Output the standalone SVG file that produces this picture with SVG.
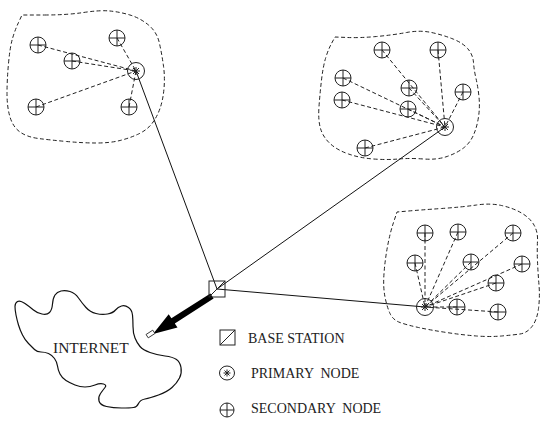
<svg xmlns="http://www.w3.org/2000/svg" xmlns:xlink="http://www.w3.org/1999/xlink" width="542" height="424" viewBox="0 0 542 424">
  <style>
    .bound { fill: none; stroke: #222; stroke-width: 1; stroke-dasharray: 4 2.5; }
    .dash { fill: none; stroke: #222; stroke-width: 1; stroke-dasharray: 4 2.5; }
    .link { fill: none; stroke: #111; stroke-width: 1; }
    .node { fill: none; stroke: #222; stroke-width: 1; }
    .cloud { fill: none; stroke: #111; stroke-width: 1.2; }
    .label { font-family: "Liberation Serif", "Times New Roman", serif; font-size: 14px; fill: #222; white-space: pre; }
  </style>
  <defs>
    <!-- secondary node: circle with a cross -->
    <g id="sec">
      <circle r="8" class="node"/>
      <path d="M-8,0H8M0,-8V8" class="node"/>
    </g>
    <!-- primary node: circle with an asterisk -->
    <g id="pri">
      <circle r="8.5" class="node"/>
      <path d="M-4,0H4M0,-4V4M-3,-3L3,3M-3,3L3,-3" class="node"/>
    </g>
  </defs>

  <!-- cluster boundaries -->
  <g id="boundaries">
    <path class="bound" d="M 44.5,15 Q 67,15 83.5,12.5 Q 100,10 110,11 Q 120,12 130,15 Q 140,18 148.5,25 Q 157,32 159.5,43.5 Q 162,55 163.5,66 Q 165,77 164,88.5 Q 163,100 160,108.5 Q 157,117 152,123.5 Q 147,130 138.5,134 Q 130,138 120,140.5 Q 110,143 96.5,143 Q 83,143 66.5,141.5 Q 50,140 38.5,138.5 Q 27,137 20,132 Q 13,127 10,117 Q 7,107 7,93.5 Q 7,80 8.5,63.5 Q 10,47 12.5,38.5 Q 15,30 18.5,22.5 L 22,15 Z"/>
    <path class="bound" d="M 347.5,37.5 Q 360,38 376.5,36.5 Q 393,35 406.5,32.5 Q 420,30 431.5,32.5 Q 443,35 453,39 Q 463,43 468,49 Q 473,55 473.5,62.5 Q 474,70 476,78.5 Q 478,87 479,97 Q 480,107 478.5,117 Q 477,127 473.5,135 Q 470,143 463.5,148 Q 457,153 447,156.5 Q 437,160 423.5,159 Q 410,158 398.5,159 Q 387,160 373.5,159 Q 360,158 348.5,154 Q 337,150 330,143.5 Q 323,137 320.5,128.5 Q 318,120 319,106.5 Q 320,93 321.5,80 Q 323,67 325.5,58.5 Q 328,50 331.5,43.5 L 335,37 Z"/>
    <path class="bound" d="M 408.5,211 Q 420,210 441.5,208.5 Q 463,207 476.5,205 Q 490,203 501.5,205.5 Q 513,208 521.5,213 Q 530,218 534,225 Q 538,232 537.5,241 Q 537,250 537.5,261.5 Q 538,273 539,285 Q 540,297 538.5,308.5 Q 537,320 532,326.5 Q 527,333 520,334 Q 513,335 501.5,336 Q 490,337 476.5,336 Q 463,335 446.5,332.5 Q 430,330 418.5,327.5 Q 407,325 400,322.5 Q 393,320 390,313.5 Q 387,307 385,297 Q 383,287 384,273.5 Q 385,260 387.5,246.5 Q 390,233 393.5,222.5 L 397,212 Z"/>
  </g>

  <!-- internet cloud -->
  <g id="internet">
    <path class="cloud" d="M 17.5,301.5 Q 20,300 25,303.5 Q 30,307 33.5,310 Q 37,313 42,314 Q 47,315 49.5,312.5 Q 52,310 52.5,304 Q 53,298 55,295 Q 57,292 61,291 Q 65,290 70,291.5 Q 75,293 78.5,298 Q 82,303 86,307.5 Q 90,312 96,313.5 Q 102,315 107.5,314 Q 113,313 115.5,310 Q 118,307 121.5,306 Q 125,305 128.5,307.5 Q 132,310 132.5,315 Q 133,320 133,326.5 Q 133,333 135,338 Q 137,343 140,346.5 Q 143,350 150,352.5 Q 157,355 165,356 Q 173,357 176.5,359.5 Q 180,362 181,367.5 Q 182,373 179.5,378 Q 177,383 172,387.5 Q 167,392 158.5,395 Q 150,398 145,399 Q 140,400 138.5,403.5 Q 137,407 133.5,407.5 Q 130,408 121.5,408 Q 113,408 106.5,406.5 Q 100,405 99,401 Q 98,397 100.5,393.5 Q 103,390 105,387.5 Q 107,385 103.5,384 Q 100,383 95,385 Q 90,387 85,387 Q 80,387 75,385 Q 70,383 66,380.5 Q 62,378 60,374 Q 58,370 57.5,366 Q 57,362 54.5,358.5 Q 52,355 48.5,353.5 Q 45,352 41,352 Q 37,352 34.5,349.5 Q 32,347 28.5,343.5 Q 25,340 22.5,335 Q 20,330 18.5,325 Q 17,320 16,315 Q 15,310 15,306.5 Q 15,303 17.5,301.5 Z"/>
    <text class="label" x="53" y="353" style="font-size:15.5px">INTERNET</text>
  </g>

  <!-- connectors -->
  <g id="connectors">
    <!-- base station to primary nodes -->
    <path class="link" d="M217,289L136,71M217,289L445,127M217,289L425,307"/>
    <!-- cluster 1 -->
    <path class="dash" d="M38,45L136,71M72,61L136,71M117,38L136,71M36,107L136,71M129,107L136,71"/>
    <!-- cluster 2 -->
    <path class="dash" d="M382,50L445,127M438,50L445,127M343,78L445,127M342,100L445,127M409,88L445,127M408,109L445,127M463,92L445,127M365,148L445,127"/>
    <!-- cluster 3 -->
    <path class="dash" d="M425,233L425,307M458,232L425,307M513,233L425,307M415,263L425,307M471,262L425,307M522,264L425,307M496,283L425,307M457,307L425,307M498,312L425,307"/>
    <!-- uplink to internet -->
    <polygon fill="#000" points="210.4,293.5 171.4,318.2 168.7,314.2 153,334 177.5,327.6 174.8,323.6 213.6,298.5"/>
    <rect x="146.5" y="332" width="8" height="4" fill="#fff" stroke="#222" stroke-width="0.8" transform="rotate(-33 150.5 334)"/>
  </g>

  <!-- base station -->
  <g id="base-station">
    <rect x="209" y="281" width="16" height="16" class="node"/>
    <path d="M209,297L225,281" class="node"/>
  </g>

  <!-- cluster 1 nodes -->
  <g id="c1-primary"><use xlink:href="#pri" x="136" y="71"/></g>
  <g id="c1-s1"><use xlink:href="#sec" x="38" y="45"/></g>
  <g id="c1-s2"><use xlink:href="#sec" x="72" y="61"/></g>
  <g id="c1-s3"><use xlink:href="#sec" x="117" y="38"/></g>
  <g id="c1-s4"><use xlink:href="#sec" x="36" y="107"/></g>
  <g id="c1-s5"><use xlink:href="#sec" x="129" y="107"/></g>

  <!-- cluster 2 nodes -->
  <g id="c2-primary"><use xlink:href="#pri" x="445" y="127"/></g>
  <g id="c2-s1"><use xlink:href="#sec" x="382" y="50"/></g>
  <g id="c2-s2"><use xlink:href="#sec" x="438" y="50"/></g>
  <g id="c2-s3"><use xlink:href="#sec" x="343" y="78"/></g>
  <g id="c2-s4"><use xlink:href="#sec" x="342" y="100"/></g>
  <g id="c2-s5"><use xlink:href="#sec" x="409" y="88"/></g>
  <g id="c2-s6"><use xlink:href="#sec" x="408" y="109"/></g>
  <g id="c2-s7"><use xlink:href="#sec" x="463" y="92"/></g>
  <g id="c2-s8"><use xlink:href="#sec" x="365" y="148"/></g>

  <!-- cluster 3 nodes -->
  <g id="c3-primary"><use xlink:href="#pri" x="425" y="307"/></g>
  <g id="c3-s1"><use xlink:href="#sec" x="425" y="233"/></g>
  <g id="c3-s2"><use xlink:href="#sec" x="458" y="232"/></g>
  <g id="c3-s3"><use xlink:href="#sec" x="513" y="233"/></g>
  <g id="c3-s4"><use xlink:href="#sec" x="415" y="263"/></g>
  <g id="c3-s5"><use xlink:href="#sec" x="471" y="262"/></g>
  <g id="c3-s6"><use xlink:href="#sec" x="522" y="264"/></g>
  <g id="c3-s7"><use xlink:href="#sec" x="496" y="283"/></g>
  <g id="c3-s8"><use xlink:href="#sec" x="457" y="307"/></g>
  <g id="c3-s9"><use xlink:href="#sec" x="498" y="312"/></g>

  <!-- legend -->
  <g id="legend">
    <rect x="220" y="330" width="15" height="15" class="node"/>
    <path d="M220,345L235,330" class="node"/>
    <text class="label" x="248" y="342.5">BASE STATION</text>
    <ellipse cx="227" cy="373" rx="7.5" ry="7" class="node"/>
    <path d="M223.5,373H230.5M227,369.5V376.5M224.5,370.5L229.5,375.5M224.5,375.5L229.5,370.5" class="node" stroke-width="0.7"/>
    <text class="label" x="251" y="377.5">PRIMARY  NODE</text>
    <circle cx="227" cy="410" r="7" class="node"/>
    <path d="M220,410H234M227,403V417" class="node"/>
    <text class="label" x="251" y="412.5">SECONDARY  NODE</text>
  </g>
</svg>
